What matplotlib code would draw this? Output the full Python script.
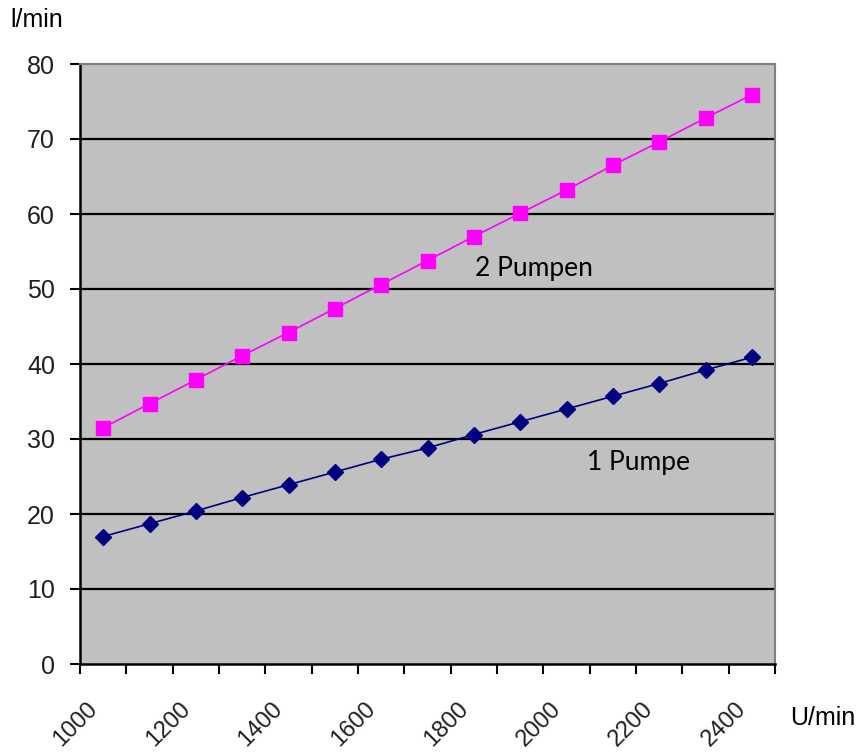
import matplotlib
matplotlib.use("Agg")
import matplotlib.pyplot as plt
from matplotlib.ticker import FixedLocator
from matplotlib.transforms import ScaledTranslation

categories = [1000, 1100, 1200, 1300, 1400, 1500, 1600, 1700, 1800, 1900, 2000, 2100, 2200, 2300, 2400]
tick_labels = ["1000", "1200", "1400", "1600", "1800", "2000", "2200", "2400"]
zwei_pumpen = [31.5, 34.7, 37.9, 41.1, 44.2, 47.4, 50.6, 53.8, 57.0, 60.1, 63.2, 66.5, 69.6, 72.8, 75.9]
eine_pumpe = [17.0, 18.7, 20.4, 22.2, 23.9, 25.6, 27.3, 28.8, 30.6, 32.3, 34.0, 35.7, 37.4, 39.2, 40.9]
y_ticks = [0, 10, 20, 30, 40, 50, 60, 70, 80]

plt.rcParams['font.family'] = ['Liberation Sans', 'DejaVu Sans']

fig = plt.figure(figsize=(8.63, 7.52), dpi=100)
ax = fig.add_axes([80/863, 1-664/752, (775-80)/863, (664-64)/752])
ax.set_facecolor('#C0C0C0')

idx = list(range(len(categories)))
ax.plot(idx, zwei_pumpen, color='#FF00FF', lw=1.2, marker='s', ms=10,
        markeredgecolor='#FF00FF', zorder=3, clip_on=False)
ax.plot(idx, eine_pumpe, color='#000080', lw=1.2, marker='D', ms=8.5,
        markeredgecolor='#000080', zorder=3, clip_on=False)

ax.set_xlim(-0.5, len(categories) - 0.5)
ax.set_ylim(0, 80)

ax.set_yticks(y_ticks)
ax.set_yticklabels([str(v) for v in y_ticks], fontsize=18, color='#202020')
ax.tick_params(axis='y', direction='out', length=7, width=1.5, pad=11)
for v in y_ticks[1:-1]:
    ax.axhline(v, color='black', lw=1.6, zorder=1)

label_pos = [idx[i] for i in range(0, len(categories), 2)]
ax.set_xticks(label_pos)
ax.set_xticklabels(tick_labels, fontsize=17, rotation=45, ha='right',
                   rotation_mode='anchor', va='center', color='#202020')
ax.tick_params(axis='x', which='major', length=0, pad=30)
off = ScaledTranslation(-9/100, 0, fig.dpi_scale_trans)
for lab in ax.get_xticklabels():
    lab.set_transform(lab.get_transform() + off)
ax.xaxis.set_minor_locator(FixedLocator([i - 0.5 for i in range(len(categories) + 1)]))
ax.tick_params(axis='x', which='minor', direction='out', length=7, width=1.5)

ax.spines['left'].set_color('black')
ax.spines['left'].set_linewidth(1.8)
ax.spines['bottom'].set_color('black')
ax.spines['bottom'].set_linewidth(1.8)
ax.spines['top'].set_color('#808080')
ax.spines['top'].set_linewidth(1.5)
ax.spines['right'].set_color('#808080')
ax.spines['right'].set_linewidth(1.5)

ax.text(8.03, 52.7, "2 Pumpen", fontsize=19, family=['Lato', 'DejaVu Sans'],
        ha='left', va='center', color='black')
ax.text(10.44, 26.9, "1 Pumpe", fontsize=19, family=['Lato', 'DejaVu Sans'],
        ha='left', va='center', color='black')

fig.text(10/863, 1-20/752, "l/min", fontsize=18, ha='left', va='center')
fig.text(790/863, 1-718/752, "U/min", fontsize=18, ha='left', va='center')

fig.savefig("out.png", dpi=100)
